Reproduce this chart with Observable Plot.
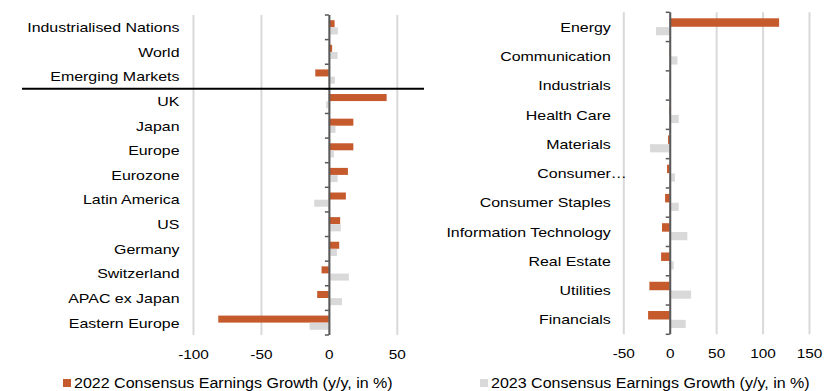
<!DOCTYPE html>
<html>
<head>
<meta charset="utf-8">
<script src="https://cdn.jsdelivr.net/npm/d3@7"></script>
<script src="https://cdn.jsdelivr.net/npm/@observablehq/plot@0.6"></script>
<style>
  body { margin: 0; background: #fff; }
  #chart { position: relative; width: 833px; height: 391px; font-family: "Liberation Sans", Arial, sans-serif; color: #000; }
  #left { position: absolute; left: 0; top: 0; }
  #right { position: absolute; left: 430px; top: 0; }
  .legend-item { position: absolute; top: 375px; height: 16px; display: flex; align-items: center; white-space: nowrap; }
  .swatch { width: 8px; height: 8px; margin-right: 3px; }
  .legend-text { display: inline-block; font-size: 14px; line-height: 16px; transform: scaleX(1.145); transform-origin: left center; }
</style>
</head>
<body>
<div id="chart">
  <div id="left"></div>
  <div id="right"></div>
  <div class="legend-item" style="left:63px"><span class="swatch" id="sw22"></span><span class="legend-text" id="lg22"></span></div>
  <div class="legend-item" style="left:480px"><span class="swatch" id="sw23"></span><span class="legend-text" id="lg23"></span></div>
</div>
<script>
// Consensus earnings growth by region (y/y, in %)
const regions = ["Industrialised Nations", "World", "Emerging Markets", "UK", "Japan", "Europe", "Eurozone",
  "Latin America", "US", "Germany", "Switzerland", "APAC ex Japan", "Eastern Europe"];
const regionGrowth2022 = [4.2, 2.4, -10, 42.5, 18, 18, 14, 12.5, 8.3, 7.6, -5.4, -8.6, -81.4];
const regionGrowth2023 = [6.6, 6.4, 4.4, -2, 4.9, 3.7, 6.4, -10.8, 8.8, 5.9, 14.7, 9.6, -14.2];

// Consensus earnings growth by sector (y/y, in %)
const sectors = ["Energy", "Communication", "Industrials", "Health Care", "Materials", "Consumer Discretionary",
  "Consumer Staples", "Information Technology", "Real Estate", "Utilities", "Financials"];
const sectorGrowth2022 = [117.8, 1, 0.7, -0.6, -1.8, -2.9, -5, -8.3, -9.3, -21.9, -23.3];
const sectorGrowth2023 = [-14.7, 8.3, 0, 9.7, -21.2, 5.7, 9.7, 19, 4.3, 23, 17.2];

const regionTicks = [-100, -50, 0, 50];
const sectorTicks = [-50, 0, 50, 100, 150];
const seriesNames = ["2022 Consensus Earnings Growth (y/y, in %)", "2023 Consensus Earnings Growth (y/y, in %)"];
const sectorLabels = {"Consumer Discretionary": "Consumer\u2026"};

const orange = "#c55a2c";
const lightGray = "#d9d9d9";
const axisGray = "#595959";
const font = "'Liberation Sans', Arial, sans-serif";

// Short outward ticks on the zero axis at every category boundary
function boundaryTicks(length) {
  return (index, scales) => {
    const y = scales.y, x0 = scales.x(0);
    const cats = y.domain();
    const edges = cats.map(c => y(c)).concat([y(cats[cats.length - 1]) + y.bandwidth()]);
    const g = d3.create("svg:g").attr("stroke", axisGray).attr("stroke-width", 1.5);
    for (const e of edges) g.append("line").attr("x1", x0 - length).attr("x2", x0).attr("y1", e).attr("y2", e);
    return g.node();
  };
}

// Horizontal divider drawn above a given category, running into the label area
function divider(category, startX) {
  return (index, scales, values, dims) => {
    const yy = scales.y(category);
    return d3.create("svg:line")
      .attr("x1", startX).attr("x2", dims.width - dims.marginRight)
      .attr("y1", yy).attr("y2", yy)
      .attr("stroke", "#000").attr("stroke-width", 2).node();
  };
}

function panel({cats, v22, v23, domain, ticks, width, margins, insets, labelPadding, labelFormat, extra = []}) {
  const rows22 = cats.map((c, i) => ({category: c, value: v22[i]}));
  const rows23 = cats.map((c, i) => ({category: c, value: v23[i]}));
  return Plot.plot({
    width, height: 370,
    ...margins,
    style: {fontFamily: font, fontSize: "13px", color: "#000", background: "transparent", overflow: "visible"},
    x: {domain, label: null},
    y: {domain: cats, padding: 0, round: false, label: null},
    marks: [
      Plot.ruleX(ticks, {stroke: lightGray, strokeWidth: 2}),
      Plot.barX(rows22, {y: "category", x: "value", fill: orange, insetTop: insets[0], insetBottom: insets[1]}),
      Plot.barX(rows23, {y: "category", x: "value", fill: lightGray, insetTop: insets[2], insetBottom: insets[3]}),
      Plot.ruleX([0], {stroke: axisGray, strokeWidth: 2}),
      boundaryTicks(4),
      Plot.axisX({ticks, tickSize: 0, tickPadding: 14, tickFormat: d => String(d), fill: "#000"}),
      Plot.axisY({tickSize: 0, tickPadding: labelPadding, tickFormat: labelFormat, fill: "#000", fontSize: 13.5}),
      ...extra
    ]
  });
}

const leftPlot = panel({
  cats: regions, v22: regionGrowth2022, v23: regionGrowth2023,
  domain: [-100, 70], ticks: regionTicks, width: 430,
  margins: {marginLeft: 193, marginRight: 6, marginTop: 15, marginBottom: 35},
  insets: [5.2, 12.4, 12.4, 5.2], labelPadding: 14, labelFormat: d => d,
  extra: [divider("UK", 22)]
});

const rightPlot = panel({
  cats: sectors, v22: sectorGrowth2022, v23: sectorGrowth2023,
  domain: [-50, 150], ticks: sectorTicks, width: 403,
  margins: {marginLeft: 193.3, marginRight: 24, marginTop: 12.3, marginBottom: 35.7},
  insets: [6, 14.8, 14.8, 6.3], labelPadding: 13, labelFormat: d => sectorLabels[d] ?? d
});

document.getElementById("left").append(leftPlot);
document.getElementById("right").append(rightPlot);

// Slightly widened lettering; a truncated label lets its ellipsis hang past the label edge
document.querySelectorAll("#chart svg text").forEach(t => {
  const w = t.getComputedTextLength();
  if (w > 0) {
    const s = 1.18;
    const txt = t.textContent;
    if (txt.endsWith("\u2026")) {
      const tail = t.getSubStringLength(txt.length - 1, 1);
      t.setAttribute("dx", tail * s);
    }
    t.setAttribute("textLength", w * s);
    t.setAttribute("lengthAdjust", "spacingAndGlyphs");
  }
});

// Legend
document.getElementById("sw22").style.background = orange;
document.getElementById("sw23").style.background = lightGray;
document.getElementById("lg22").textContent = seriesNames[0];
document.getElementById("lg23").textContent = seriesNames[1];
</script>
</body>
</html>
